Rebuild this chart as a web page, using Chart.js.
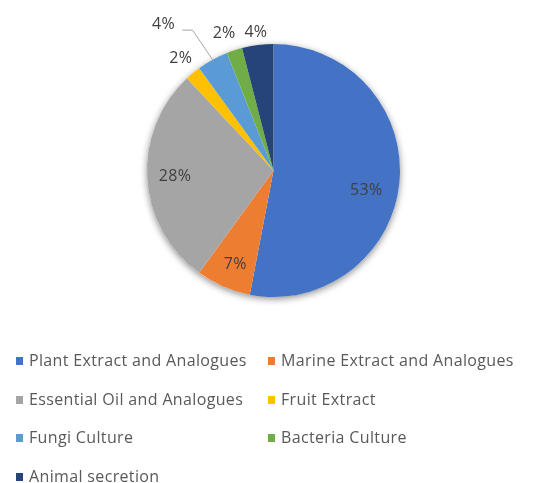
<!DOCTYPE html>
<html>
<head>
<meta charset="utf-8">
<script src="https://cdn.jsdelivr.net/npm/chart.js@4/dist/chart.umd.min.js"></script>
<style>
  body { margin: 0; background: #fff; }
  #wrap { position: relative; width: 547px; height: 483px; }
  #box { position: absolute; left: 0; top: 0; width: 547px; height: 340px; }
  #legend { position: absolute; left: 0; top: 0; width: 547px; height: 483px; pointer-events: none; }
  .item { position: absolute; font-family: "Open Sans", sans-serif; font-size: 16px; letter-spacing: 0.35px; color: #595959; white-space: nowrap; line-height: 20px; }
  .item span { display: inline-block; width: 7px; height: 8px; margin-right: 6px; vertical-align: 1px; }
</style>
</head>
<body>
<div id="wrap">
  <div id="box"><canvas id="pieChart"></canvas></div>
  <div id="legend"></div>
</div>
<script>
// data
const categories = ['Plant Extract and Analogues', 'Marine Extract and Analogues', 'Essential Oil and Analogues', 'Fruit Extract', 'Fungi Culture', 'Bacteria Culture', 'Animal secretion'];
const shares = [53, 7, 28, 2, 4, 2, 4];
const colors = ['#4472C4', '#ED7D31', '#A5A5A5', '#FFC000', '#5B9BD5', '#70AD47', '#264478'];

// label placement: fraction of radius along the slice middle, then a small nudge
const labelDist = [0.76, 0.82, 0.78, 1.15, 1.46, 1.16, 1.11];
const labelNudge = [[-3, 11], [3, -1], [0, 0], [0, 0], [-21, 16], [-4, 2], [0, 1]];

// drop shadow behind the whole pie
const pieShadow = {
  id: 'pieShadow',
  beforeDatasetsDraw(chart) {
    const arc = chart.getDatasetMeta(0).data[0];
    const ctx = chart.ctx;
    ctx.save();
    ctx.shadowColor = 'rgba(0,0,0,0.45)';
    ctx.shadowBlur = 7;
    ctx.shadowOffsetY = 2;
    ctx.fillStyle = '#fff';
    ctx.beginPath();
    ctx.arc(arc.x, arc.y, arc.outerRadius, 0, Math.PI * 2);
    ctx.fill();
    ctx.restore();
  }
};

// percentage labels, with a leader line when far out
const pieLabels = {
  id: 'pieLabels',
  afterDatasetsDraw(chart) {
    const ctx = chart.ctx;
    const meta = chart.getDatasetMeta(0);
    ctx.save();
    ctx.font = '16px "Open Sans", sans-serif';
    ctx.letterSpacing = '0.3px';
    ctx.fillStyle = '#404040';
    ctx.textAlign = 'center';
    ctx.textBaseline = 'middle';
    meta.data.forEach((a, i) => {
      const mid = (a.startAngle + a.endAngle) / 2;
      const r = a.outerRadius;
      const d = labelDist[i];
      const tx = a.x + Math.cos(mid) * r * d + labelNudge[i][0];
      const ty = a.y + Math.sin(mid) * r * d + labelNudge[i][1];
      if (d > 1.3) {
        ctx.strokeStyle = '#a6a6a6';
        ctx.lineWidth = 1;
        ctx.beginPath();
        ctx.moveTo(tx + 19, ty + 5.5);
        ctx.lineTo(tx + 29, ty + 5.5);
        ctx.lineTo(a.x + Math.cos(mid) * r, a.y + Math.sin(mid) * r);
        ctx.stroke();
      }
      ctx.fillText(shares[i] + '%', tx, ty);
    });
    ctx.restore();
  }
};

new Chart(document.getElementById('pieChart'), {
  type: 'pie',
  data: {
    labels: categories,
    datasets: [{
      data: shares,
      backgroundColor: colors,
      borderWidth: 0
    }]
  },
  options: {
    responsive: true,
    maintainAspectRatio: false,
    animation: false,
    layout: { padding: { top: 44, bottom: 43 } },
    plugins: {
      legend: { display: false },
      tooltip: { enabled: false }
    }
  },
  plugins: [pieShadow, pieLabels]
});

// legend in two columns
const legend = document.getElementById('legend');
categories.forEach((name, i) => {
  const el = document.createElement('div');
  el.className = 'item';
  el.style.left = (i % 2 === 0 ? 16 : 268) + 'px';
  el.style.top = (350 + Math.floor(i / 2) * 38.5) + 'px';
  el.innerHTML = '<span style="background:' + colors[i] + '"></span>' + name;
  legend.appendChild(el);
});
</script>
</body>
</html>
